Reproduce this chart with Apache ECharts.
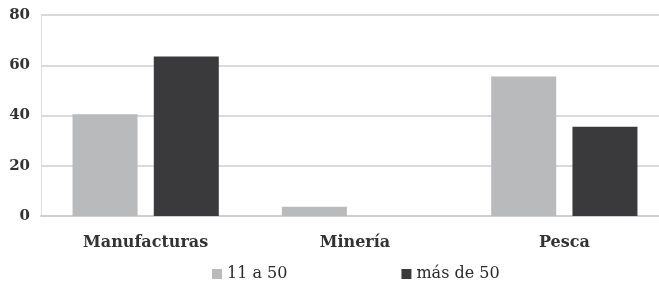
<!DOCTYPE html>
<html>
<head>
<meta charset="utf-8">
<script src="https://cdn.jsdelivr.net/npm/echarts@6/dist/echarts.min.js"></script>
<style>
  html, body { margin: 0; padding: 0; background: #fff; }
  #chart { width: 659px; height: 284px; }
</style>
</head>
<body>
<div id="chart"></div>
<script>
// data
var categories = ['Manufacturas', 'Minería', 'Pesca'];
var seriesNames = ['11 a 50', 'más de 50'];
var small = [40.5, 3.7, 55.5];
var large = [63.5, 0, 35.5];

var font = 'DejaVu Serif';
var chart = echarts.init(document.getElementById('chart'));
chart.setOption({
  animation: false,
  textStyle: { fontFamily: font },
  grid: { left: 41, top: 15, width: 628, height: 201, containLabel: false, outerBoundsMode: 'none' },
  legend: {
    top: 261,
    left: 207,
    itemGap: 114,
    itemWidth: 10,
    itemHeight: 10,
    icon: 'rect',
    textStyle: { fontFamily: font, fontSize: 16, color: '#2a2a2a' },
    data: seriesNames
  },
  xAxis: {
    type: 'category',
    data: categories,
    axisLine: { lineStyle: { color: '#cfcfcf', width: 2 } },
    axisTick: { show: false },
    axisLabel: { fontFamily: font, fontSize: 16, fontWeight: 'bold', color: '#333', margin: 19 }
  },
  yAxis: {
    type: 'value',
    min: 0, max: 80, interval: 20,
    axisLine: { show: true, lineStyle: { color: '#dcdcdc', width: 1 } },
    axisTick: { show: false },
    axisLabel: { fontFamily: font, fontSize: 15, fontWeight: 'bold', color: '#333', margin: 11 },
    splitLine: { lineStyle: { color: '#dadada', width: 2 } }
  },
  series: [
    { name: seriesNames[0], type: 'bar', data: small, barWidth: 65, barGap: '25%', itemStyle: { color: '#b9babc' } },
    { name: seriesNames[1], type: 'bar', data: large, barWidth: 65, itemStyle: { color: '#3a3a3c' } }
  ]
});
</script>
</body>
</html>
